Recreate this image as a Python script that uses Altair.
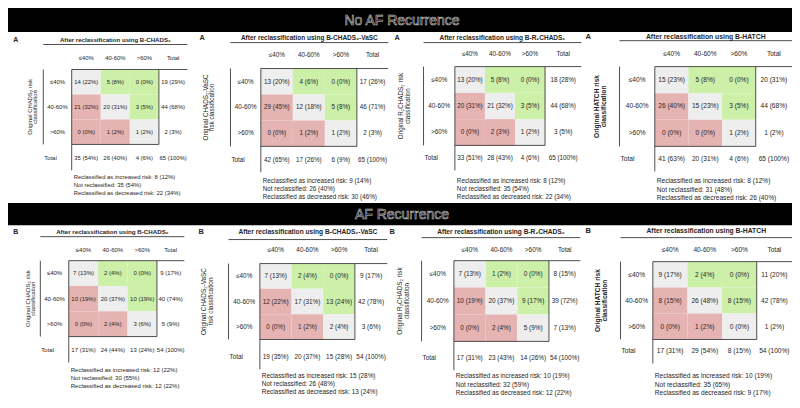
import altair as alt
import pandas as pd

# ---------------- data ----------------
GROUPS = ["No AF Recurrence", "AF Recurrence"]
LETTERS = ["A", "B"]
RISK = ["≤40%", "40-60%", ">60%"]
TITLES = [
    "After reclassification using B-CHADS₂",
    "After reclassification using B-CHADS₂-VaSC",
    "After reclassification using B-R₂CHADS₂",
    "After reclassification using B-HATCH",
]
YLABELS = [
    ["Original CHADS₂ risk", "classification"],
    ["Original CHADS₂-VaSC", "risk classification"],
    ["Original R₂CHADS₂ risk", "classification"],
    ["Original HATCH risk", "classification"],
]
FOOTER_LABELS = ["Reclassified as increased risk", "Not reclassified", "Reclassified as decreased risk"]

# rows: [<=40%, 40-60%, >60%, Total] for each original class, last row = column totals
noaf_chads2_n = [14, 5, 0, 19, 21, 20, 3, 44, 0, 1, 1, 2, 35, 26, 4, 65]
noaf_chads2_pct = [22, 8, 0, 29, 32, 31, 5, 68, 0, 2, 2, 3, 54, 40, 6, 100]
noaf_chads2_reclass = [8, 12, 35, 54, 22, 34]

noaf_vasc_n = [13, 4, 0, 17, 29, 12, 5, 46, 0, 1, 1, 2, 42, 17, 6, 65]
noaf_vasc_pct = [20, 6, 0, 26, 45, 18, 8, 71, 0, 2, 2, 3, 65, 26, 9, 100]
noaf_vasc_reclass = [9, 14, 26, 40, 30, 46]

noaf_r2chads2_n = [13, 5, 0, 18, 20, 21, 3, 44, 0, 2, 1, 3, 33, 28, 4, 65]
noaf_r2chads2_pct = [20, 8, 0, 28, 31, 32, 5, 68, 0, 3, 2, 5, 51, 43, 6, 100]
noaf_r2chads2_reclass = [8, 12, 35, 54, 22, 34]

noaf_hatch_n = [15, 5, 0, 20, 26, 15, 3, 44, 0, 0, 1, 1, 41, 20, 4, 65]
noaf_hatch_pct = [23, 8, 0, 31, 40, 23, 5, 68, 0, 0, 2, 2, 63, 31, 6, 100]
noaf_hatch_reclass = [8, 12, 31, 48, 26, 40]

af_chads2_n = [7, 2, 0, 9, 10, 20, 10, 40, 0, 2, 3, 5, 17, 24, 13, 54]
af_chads2_pct = [13, 4, 0, 17, 19, 37, 19, 74, 0, 4, 6, 9, 31, 44, 24, 100]
af_chads2_reclass = [12, 22, 30, 55, 12, 22]

af_vasc_n = [7, 2, 0, 9, 12, 17, 13, 42, 0, 1, 2, 3, 19, 20, 15, 54]
af_vasc_pct = [13, 4, 0, 17, 22, 31, 24, 78, 0, 2, 4, 6, 35, 37, 28, 100]
af_vasc_reclass = [15, 28, 26, 48, 13, 24]

af_r2chads2_n = [7, 1, 0, 8, 10, 20, 9, 39, 0, 2, 5, 7, 17, 23, 14, 54]
af_r2chads2_pct = [13, 2, 0, 15, 19, 37, 17, 72, 0, 4, 9, 13, 31, 43, 26, 100]
af_r2chads2_reclass = [10, 19, 32, 59, 12, 22]

af_hatch_n = [9, 2, 0, 11, 8, 26, 8, 42, 0, 1, 0, 1, 17, 29, 8, 54]
af_hatch_pct = [17, 4, 0, 20, 15, 48, 15, 78, 0, 2, 0, 2, 31, 54, 15, 100]
af_hatch_reclass = [10, 19, 35, 65, 9, 17]

PANELS = [
    (noaf_chads2_n, noaf_chads2_pct, noaf_chads2_reclass),
    (noaf_vasc_n, noaf_vasc_pct, noaf_vasc_reclass),
    (noaf_r2chads2_n, noaf_r2chads2_pct, noaf_r2chads2_reclass),
    (noaf_hatch_n, noaf_hatch_pct, noaf_hatch_reclass),
    (af_chads2_n, af_chads2_pct, af_chads2_reclass),
    (af_vasc_n, af_vasc_pct, af_vasc_reclass),
    (af_r2chads2_n, af_r2chads2_pct, af_r2chads2_reclass),
    (af_hatch_n, af_hatch_pct, af_hatch_reclass),
]

# ---------------- layout (page units of an 800x408 sheet) ----------------
# letter x, ylabel line1 x, ylabel line2 x, row-line x, matrix left, matrix right, table right
PX = [
    (8, 22, 28, 36, 65, 154, 183),
    (198, 202, 208, 227, 258, 356, 388),
    (397, 401, 408, 424, 456, 548, 585),
    (592, 601, 608, 624, 660, 763, 800),
    (8, 20, 26, 33, 62, 152, 180),
    (197, 200, 207, 225, 257, 354, 387),
    (392, 400, 407, 422, 455, 552, 584),
    (592, 602, 609, 625, 658, 764, 800),
]
# title y, underline y, header y, matrix top, matrix bottom, total row y, footer y, footer step
PY = [
    (33, 38, 52, 64, 142, 156, 176, 8.5),
    (31, 36, 49, 63, 144, 158, 180, 8.5),
    (31, 36, 48, 61, 143, 156, 180, 8.5),
    (30, 34, 48, 61, 144, 157, 180, 9),
    (233, 238, 252, 263, 342, 356, 377, 8),
    (233, 241, 252, 266, 345, 363, 383, 8.5),
    (233, 239, 252, 263, 347, 364, 383, 9),
    (232, 239, 252, 264, 345, 357, 383, 9),
]
FS = [5.9, 6.3, 6.3, 6.6, 6.0, 6.4, 6.4, 6.6]
BANNERS_Y = [(0, 25), (203, 226)]

cells, ctext, ltext, btext, ylab_n, ylab_b, rules = [], [], [], [], [], [], []
for p, (n, pct, rc) in enumerate(PANELS):
    g, s = divmod(p, 4)
    ax, yl1, yl2, rlx, mx0, mx1, tx1 = PX[p]
    ty, uy, hy, my0, my1, toty, fy, fstep = PY[p]
    fs = FS[p]
    cw = (mx1 - mx0) / 3
    rh = (my1 - my0) / 3
    totx = (mx1 + tx1) / 2
    for r in range(3):
        yc = my0 + (r + 0.5) * rh
        for c in range(3):
            kind = "same" if r == c else ("inc" if c > r else "dec")
            cells.append(dict(x=mx0 + c * cw, x2=mx0 + (c + 1) * cw,
                              y=my0 + r * rh, y2=my0 + (r + 1) * rh, kind=kind))
            ctext.append(dict(x=mx0 + (c + 0.5) * cw, y=yc, fs=fs,
                              t=f"{n[r * 4 + c]} ({pct[r * 4 + c]}%)"))
        ctext.append(dict(x=totx, y=yc, fs=fs, t=f"{n[r * 4 + 3]} ({pct[r * 4 + 3]}%)"))
        ctext.append(dict(x=(rlx + mx0) / 2, y=yc, fs=fs, t=RISK[r]))
    for c in range(3):
        ctext.append(dict(x=mx0 + (c + 0.5) * cw, y=hy, fs=fs, t=RISK[c]))
        ctext.append(dict(x=mx0 + (c + 0.5) * cw, y=toty, fs=fs,
                          t=f"{n[12 + c]} ({pct[12 + c]}%)"))
    ctext.append(dict(x=totx, y=hy, fs=fs, t="Total"))
    ctext.append(dict(x=totx, y=toty, fs=fs, t=f"{n[15]} ({pct[15]}%)"))
    ltext.append(dict(x=rlx + 1, y=toty, fs=fs, t="Total"))
    for i in range(3):
        ltext.append(dict(x=mx0 + 2, y=fy + i * fstep, fs=fs,
                          t=f"{FOOTER_LABELS[i]}: {rc[2 * i]} ({rc[2 * i + 1]}%)"))
    btext.append(dict(x=ax, y=ty, fs=fs + 1, t=LETTERS[g]))
    btext.append(dict(x=(rlx + tx1) / 2, y=ty, fs=fs + 0.2, t=TITLES[s]))
    ymid = (my0 + my1) / 2
    target = ylab_b if s == 3 else ylab_n
    target.append(dict(x=yl1, y=ymid, fs=fs, t=YLABELS[s][0]))
    target.append(dict(x=yl2, y=ymid, fs=fs, t=YLABELS[s][1]))
    # table lines
    rules += [
        dict(x=rlx, x2=tx1, y=uy, y2=uy),          # title underline
        dict(x=mx0, x2=tx1, y=my0, y2=my0),        # table top
        dict(x=rlx, x2=rlx, y=my0, y2=my1),        # row-label line
        dict(x=mx0, x2=mx0, y=my0, y2=toty + 13),  # matrix left (extends)
        dict(x=mx1, x2=mx1, y=my0, y2=my1),        # matrix right
        dict(x=mx0, x2=mx1, y=my1, y2=my1),        # matrix bottom
    ]

banners = pd.DataFrame([dict(x=0, x2=800, y=a, y2=b) for a, b in BANNERS_Y])
banner_text = pd.DataFrame([dict(x=402, y=(a + b) / 2 + 1, t=GROUPS[i])
                            for i, (a, b) in enumerate(BANNERS_Y)])

xs = alt.Scale(domain=[0, 800], clamp=True, nice=False, zero=False)
ys = alt.Scale(domain=[0, 408], reverse=True, clamp=True, nice=False, zero=False)


def X():
    return alt.X("x:Q", scale=xs, axis=None)


def Y():
    return alt.Y("y:Q", scale=ys, axis=None)


TXT = "#262626"
FONT = "Liberation Sans"

banner_layer = alt.Chart(banners).mark_rect(color="black").encode(
    x=X(), x2="x2:Q", y=Y(), y2="y2:Q")
banner_txt = alt.Chart(banner_text).mark_text(
    font=FONT, fontSize=14, fill="black", stroke="#cfcfcf", strokeWidth=0.55,
    baseline="middle", align="center").encode(x=X(), y=Y(), text="t:N")

cell_layer = alt.Chart(pd.DataFrame(cells)).mark_rect().encode(
    x=X(), x2="x2:Q", y=Y(), y2="y2:Q",
    color=alt.Color("kind:N", scale=alt.Scale(domain=["same", "inc", "dec"],
                                              range=["#eeeeee", "#cdf0a8", "#e6b3b3"]),
                    legend=None))

rule_layer = alt.Chart(pd.DataFrame(rules)).mark_rule(color="#3c3c3c", strokeWidth=0.9).encode(
    x=X(), x2="x2:Q", y=Y(), y2="y2:Q")

center_txt = alt.Chart(pd.DataFrame(ctext)).mark_text(
    font=FONT, color=TXT, align="center", baseline="middle").encode(
    x=X(), y=Y(), text="t:N", size=alt.Size("fs:Q", scale=None))

left_txt = alt.Chart(pd.DataFrame(ltext)).mark_text(
    font=FONT, color=TXT, align="left", baseline="middle").encode(
    x=X(), y=Y(), text="t:N", size=alt.Size("fs:Q", scale=None))

bold_txt = alt.Chart(pd.DataFrame(btext)).mark_text(
    font=FONT, color=TXT, fontWeight="bold", align="center", baseline="middle").encode(
    x=X(), y=Y(), text="t:N", size=alt.Size("fs:Q", scale=None))

ylab_norm = alt.Chart(pd.DataFrame(ylab_n)).mark_text(
    font=FONT, color=TXT, angle=270, align="center", baseline="middle").encode(
    x=X(), y=Y(), text="t:N", size=alt.Size("fs:Q", scale=None))

ylab_bold = alt.Chart(pd.DataFrame(ylab_b)).mark_text(
    font=FONT, color=TXT, angle=270, fontWeight="bold", align="center", baseline="middle").encode(
    x=X(), y=Y(), text="t:N", size=alt.Size("fs:Q", scale=None))

chart = alt.layer(
    banner_layer, banner_txt, cell_layer, rule_layer,
    center_txt, left_txt, bold_txt, ylab_norm, ylab_bold,
).properties(
    width=784, height=392, padding=0,
    autosize=alt.AutoSizeParams(type="none"),
    background="white",
).configure_view(stroke=None)

chart.save("out.html", embed_options={"renderer": "svg", "actions": False})
